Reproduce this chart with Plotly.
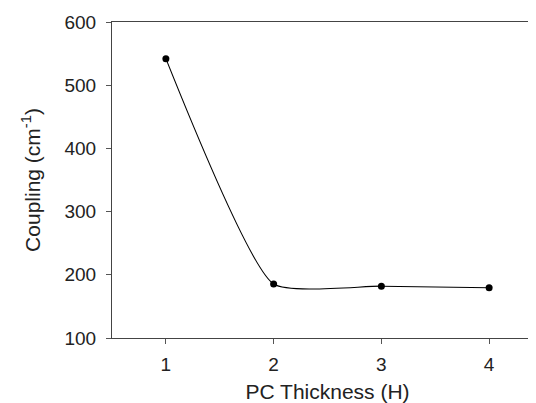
import plotly.graph_objects as go

thickness = [1, 2, 3, 4]
coupling = [542, 185.5, 182, 179.5]
x_ticks = [1, 2, 3, 4]
y_ticks = [100, 200, 300, 400, 500, 600]

FONT = "Liberation Sans, Arial, sans-serif"

fig = go.Figure()
fig.add_trace(go.Scatter(
    x=thickness, y=coupling, mode="lines+markers",
    line=dict(color="black", width=1.1, shape="spline", smoothing=0.5),
    marker=dict(color="black", size=7),
    showlegend=False,
))

axis_common = dict(
    showline=True, linecolor="#444", linewidth=1, mirror=True,
    ticks="outside", ticklen=5, tickcolor="#555", tickwidth=1,
    showgrid=False, zeroline=False,
    tickfont=dict(family=FONT, size=19, color="#222"),
    title_font=dict(family=FONT, size=21, color="#222"),
)

fig.update_layout(
    width=536, height=403,
    margin=dict(l=104, r=1, t=14, b=73),
    paper_bgcolor="white", plot_bgcolor="white",
    xaxis=dict(range=[0.5, 4.5], tickvals=x_ticks, ticklabelstandoff=4,
               title=dict(text="PC Thickness (H)", standoff=10), **axis_common),
    yaxis=dict(range=[100, 600], tickvals=y_ticks, ticklabelstandoff=6,
               title=dict(text="Coupling (cm<sup>-1</sup>)", standoff=18), **axis_common),
)

fig.write_html("out.html")
